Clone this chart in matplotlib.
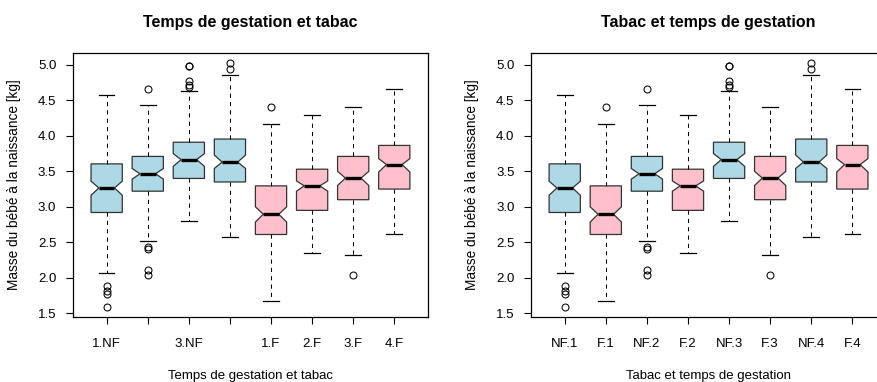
import matplotlib
matplotlib.use("Agg")
import matplotlib.pyplot as plt

plt.rcParams['font.family'] = ['Liberation Sans', 'DejaVu Sans']

# groupes : temps de gestation (1..4) x tabac (NF / F)
groups = ["1.NF", "2.NF", "3.NF", "4.NF", "1.F", "2.F", "3.F", "4.F"]
smoker = [False, False, False, False, True, True, True, True]

whislo = [2.07, 2.52, 2.80, 2.58, 1.67, 2.35, 2.32, 2.61]
q1 = [2.92, 3.22, 3.40, 3.35, 2.61, 2.95, 3.10, 3.25]
med = [3.265, 3.465, 3.665, 3.63, 2.895, 3.295, 3.405, 3.595]
q3 = [3.605, 3.71, 3.91, 3.955, 3.295, 3.53, 3.71, 3.865]
whishi = [4.57, 4.43, 4.63, 4.86, 4.17, 4.29, 4.40, 4.66]
ci_lo = [3.163, 3.39, 3.57, 3.54, 2.785, 3.22, 3.30, 3.49]
ci_hi = [3.361, 3.54, 3.75, 3.73, 3.00, 3.365, 3.50, 3.68]
outliers = [
    [1.88, 1.82, 1.77, 1.585],
    [4.66, 2.44, 2.40, 2.11, 2.04],
    [4.98, 4.98, 4.77, 4.72, 4.69],
    [5.03, 4.94],
    [4.40],
    [],
    [2.04],
    [],
]

# etiquettes affichees (R saute celles qui se chevauchent)
labels_left = ["1.NF", "", "3.NF", "", "1.F", "2.F", "3.F", "4.F"]
order_right = [0, 4, 1, 5, 2, 6, 3, 7]
labels_right = ["NF.1", "F.1", "NF.2", "F.2", "NF.3", "F.3", "NF.4", "F.4"]

col_nf = "#ADD8E6"
col_f = "#FFC0CB"


def make_stats(idx):
    st = []
    for i in idx:
        st.append(dict(med=med[i], q1=q1[i], q3=q3[i], whislo=whislo[i],
                       whishi=whishi[i], cilo=ci_lo[i], cihi=ci_hi[i],
                       fliers=outliers[i], label=groups[i]))
    return st


def draw(ax, idx, labels, title, xlabel):
    stats = make_stats(idx)
    pos = list(range(1, len(stats) + 1))
    bp = ax.bxp(stats, positions=pos, widths=0.76, shownotches=True, patch_artist=True,
                boxprops=dict(edgecolor="#333333", linewidth=0.9),
                medianprops=dict(color="black", linewidth=2.4),
                whiskerprops=dict(color="black", linewidth=0.75, linestyle=(0, (4, 4))),
                capprops=dict(color="black", linewidth=0.9),
                capwidths=0.38,
                flierprops=dict(marker="o", markerfacecolor="none", markeredgecolor="black",
                                markersize=5, markeredgewidth=0.75))
    for patch, i in zip(bp["boxes"], idx):
        patch.set_facecolor(col_f if smoker[i] else col_nf)

    allv = [v for i in idx for v in [whislo[i], whishi[i]] + outliers[i]]
    lo, hi = min(allv), max(allv)
    pad = 0.04 * (hi - lo)
    ax.set_ylim(lo - pad, hi + pad)
    n = len(stats)
    ax.set_xlim(0.5 - 0.04 * n, n + 0.5 + 0.04 * n)

    ax.set_xticks(pos)
    ax.set_xticklabels(labels)
    ax.set_yticks([1.5, 2.0, 2.5, 3.0, 3.5, 4.0, 4.5, 5.0])
    ax.set_yticklabels(["1.5", "2.0", "2.5", "3.0", "3.5", "4.0", "4.5", "5.0"])
    ax.tick_params(axis="both", direction="out", length=5, width=0.8, labelsize=9.5)
    ax.tick_params(axis="y", pad=7)
    ax.tick_params(axis="x", pad=10)
    for s in ax.spines.values():
        s.set_linewidth(0.9)

    ax.set_title(title, fontsize=11.5, fontweight="bold", pad=19)
    ax.set_xlabel(xlabel, fontsize=9.5)
    ax.xaxis.set_label_coords(0.5, -0.2)
    ax.set_ylabel("Masse du bébé à la naissance [kg]", fontsize=9.8)
    ax.yaxis.set_label_coords(-0.147, 0.5)


fig = plt.figure(figsize=(8.77, 3.82), dpi=100)
ax1 = fig.add_axes([0.0832, 0.1702, 0.4048, 0.6911])
ax2 = fig.add_axes([0.6055, 0.1702, 0.4048, 0.6911])

draw(ax1, list(range(8)), labels_left, "Temps de gestation et tabac",
     "Temps de gestation et tabac")
draw(ax2, order_right, labels_right, "Tabac et temps de gestation",
     "Tabac et temps de gestation")

fig.savefig("out.png", dpi=100)
